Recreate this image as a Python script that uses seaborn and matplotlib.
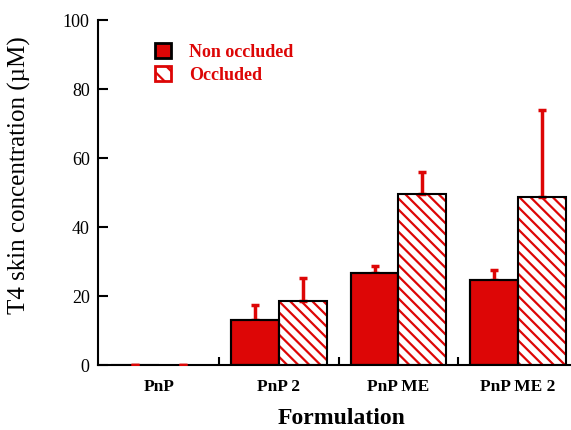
import pandas as pd
import numpy as np
import matplotlib.pyplot as plt
import seaborn as sns
from matplotlib.patches import Patch

formulations = ['PnP', 'PnP 2', 'PnP ME', 'PnP ME 2']
conditions = ['Non occluded', 'Occluded']
non_occluded = [0, 13.0, 26.8, 24.7]
non_occluded_err = [0, 4.4, 1.8, 2.9]
occluded = [0, 18.7, 49.5, 48.8]
occluded_err = [0, 6.5, 6.5, 25.2]

df = pd.DataFrame({
    'Formulation': formulations * 2,
    'Condition': [conditions[0]] * 4 + [conditions[1]] * 4,
    'value': non_occluded + occluded,
})

red = '#dd0606'
sns.set_style('ticks', {'axes.edgecolor': 'black', 'text.color': 'black',
                        'axes.labelcolor': 'black', 'xtick.color': 'black',
                        'ytick.color': 'black'})
plt.rcParams['font.family'] = ['Liberation Serif', 'DejaVu Serif']
plt.rcParams['hatch.linewidth'] = 1.6

fig = plt.figure(figsize=(5.71, 4.30), dpi=100)
ax = fig.add_axes([0.1716, 0.151, 0.826, 0.802])

sns.barplot(data=df, x='Formulation', y='value', hue='Condition',
            palette=[red, 'white'], saturation=1, errorbar=None, width=0.8,
            edgecolor='black', linewidth=1.5, ax=ax, legend=False)

# hatch the occluded bars in red
for p in ax.containers[1]:
    p.set_hatch('\\\\\\')
    p.set_edgecolor(red)
    p.set_linewidth(0)

errs = [non_occluded_err, occluded_err]
for cont, err in zip(ax.containers[:2], errs):
    xs = [p.get_x() + p.get_width() / 2 for p in cont]
    hs = [p.get_height() for p in cont]
    ax.errorbar(xs, hs, yerr=[np.zeros(len(err)), err], fmt='none',
                ecolor=red, elinewidth=2.5, capsize=3, capthick=2.5, zorder=4)

# black outlines on top of everything
for cont in ax.containers[:2]:
    for p in cont:
        if p.get_height() > 0:
            ax.bar(p.get_x(), p.get_height(), width=p.get_width(), align='edge',
                   fill=False, edgecolor='black', linewidth=1.5, zorder=5)

ax.set_ylim(0, 100)
ax.set_xlim(-0.51, 3.43)
ax.set_yticks(range(0, 101, 20))
ax.tick_params(axis='y', direction='in', length=7, width=1.5, labelsize=13, pad=6)
ax.tick_params(axis='x', length=0, labelsize=12.5, pad=10)
for lbl in ax.get_xticklabels():
    lbl.set_fontweight('bold')
ax.set_xticks([0.5, 1.5, 2.5], minor=True)
ax.tick_params(axis='x', which='minor', direction='in', length=6, width=1.5)
for s in ['left', 'bottom']:
    ax.spines[s].set_linewidth(1.5)
sns.despine(ax=ax)

ax.set_xlabel('Formulation', fontsize=17, fontweight='bold')
ax.set_ylabel('T4 skin concentration (µM)', fontsize=18)
ax.xaxis.set_label_coords(0.517, -0.124)
ax.yaxis.set_label_coords(-0.142, 0.55)

handles = [Patch(facecolor=red, edgecolor='black', linewidth=2),
           Patch(facecolor='white', edgecolor=red, hatch='\\\\', linewidth=2)]
leg = ax.legend(handles, conditions, loc='upper left', bbox_to_anchor=(0.086, 0.98),
                frameon=False, handlelength=0.9, handleheight=0.9,
                handletextpad=1.0, labelspacing=0.3,
                prop={'size': 13, 'weight': 'bold'})
for t in leg.get_texts():
    t.set_color(red)

fig.savefig('out.png', dpi=100)
